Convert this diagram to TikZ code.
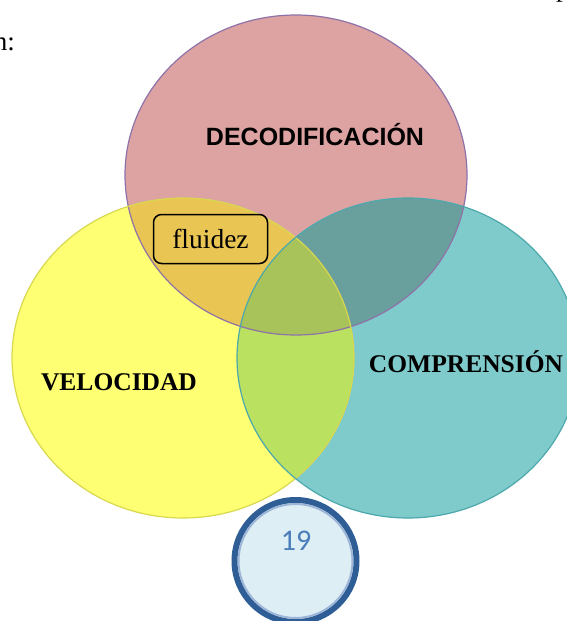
\documentclass[tikz,border=0pt]{standalone}
\usepackage{fontspec}
\setmainfont{Liberation Serif}
\newfontfamily\headfont{Liberation Sans}
\newfontfamily\numfont{Carlito}

\definecolor{decfill}{HTML}{DDA3A3}
\definecolor{decline}{HTML}{8E72A8}
\definecolor{velfill}{HTML}{FFFF73}
\definecolor{velline}{HTML}{D8D850}
\definecolor{comfill}{HTML}{7FCBCC}
\definecolor{comline}{HTML}{4CA8AC}
\definecolor{decvel}{HTML}{E9C654}
\definecolor{deccom}{HTML}{699F9C}
\definecolor{velcom}{HTML}{BBE161}
\definecolor{allthree}{HTML}{A8C35A}
\definecolor{pagline}{HTML}{2F5E96}
\definecolor{pagring}{HTML}{9DB5D6}
\definecolor{pagfill}{HTML}{DDEEF5}
\definecolor{pagtext}{HTML}{4A7EBB}

\begin{document}
\begin{tikzpicture}[x=1pt,y=-1pt,
    label/.style={inner sep=0pt, font=\bfseries\fontsize{25.5}{30}\selectfont},
    box/.style={draw, rounded corners=8pt, line width=1.5pt, fill=decvel,
      minimum width=114pt, minimum height=49pt,
      font=\fontsize{27.5}{32}\selectfont}]

        \useasboundingbox (0,0) rectangle (567,621);

        \coordinate (dec) at (296,175);
        \coordinate (vel) at (183,358);
        \coordinate (com) at (408,358);
        \def\decset{(dec) ellipse [x radius=171, y radius=160]}
        \def\velset{(vel) ellipse [x radius=171, y radius=160]}
        \def\comset{(com) ellipse [x radius=171, y radius=160]}

        % the three sets
        \fill[decfill] \decset;
        \fill[velfill] \velset;
        \fill[comfill] \comset;

        % overlaps
        \begin{scope}
          \clip \decset;
          \fill[decvel] \velset;
          \fill[deccom] \comset;
        \end{scope}
        \begin{scope}
          \clip \velset;
          \fill[velcom] \comset;
          \clip \decset;
          \fill[allthree] \comset;
        \end{scope}

        \draw[decline, line width=1.2pt] \decset;
        \draw[velline, line width=1.2pt] \velset;
        \draw[comline, line width=1.2pt] \comset;

        % texts
        \node[label, font=\headfont\bfseries\fontsize{25}{30}\selectfont] (decod) at (315,135) {DECODIFICACIÓN};
        \node[label] (velocidad) at (119,382) {VELOCIDAD};
        \node[label] (comprension) at (466,362) {COMPRENSIÓN};
        \node[box] (fluidez) at (210.5,239) {fluidez};

        \node[inner sep=0pt, anchor=base east, font=\fontsize{27}{30}\selectfont] (lead) at (15,50) {n:};
        \node[inner sep=0pt, anchor=base west, font=\fontsize{27}{30}\selectfont] (tail) at (556,-3) {p};

        % page number
        \node[circle, draw=pagline, line width=6pt, fill=pagfill, minimum size=122pt] (pagina) at (295.5,561) {};
        \draw[pagring, line width=2pt] (pagina.center) circle (57);
        \node[text=pagtext, font=\numfont\fontsize{30}{34}\selectfont] (numero) at (296,541) {19};

\end{tikzpicture}
\end{document}
